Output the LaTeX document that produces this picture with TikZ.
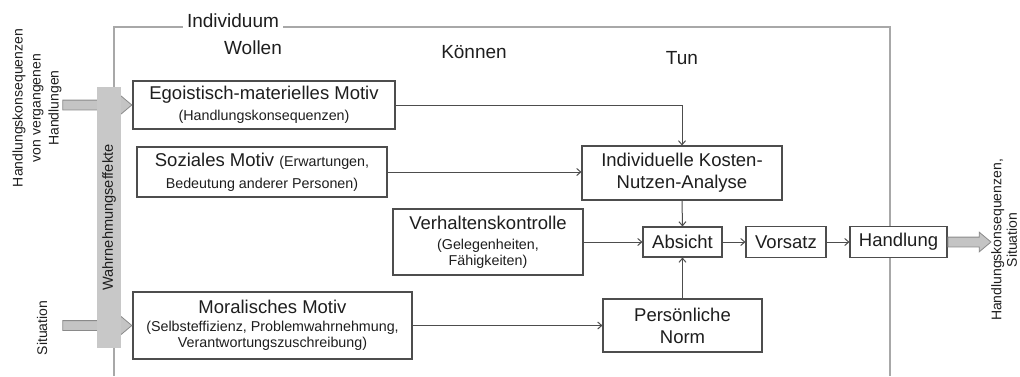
\documentclass[tikz,border=0pt]{standalone}
\usepackage{fontspec}
\setmainfont{Liberation Sans}
\usetikzlibrary{arrows.meta,shapes.arrows}

\definecolor{linegray}{HTML}{4D4D4D}
\definecolor{framegray}{HTML}{A8A8A8}
\definecolor{barfill}{HTML}{C8C8C8}
\definecolor{blockfill}{HTML}{C4C4C4}
\definecolor{blockdraw}{HTML}{8A8A8A}
\definecolor{textcol}{HTML}{1E1E1E}

\newcommand{\bigtxt}{\fontsize{18.5}{22}\selectfont}
\newcommand{\smalltxt}{\fontsize{14.3}{17}\selectfont}

\tikzset{
  box/.style={draw=linegray, line width=1.1pt, fill=white, text=textcol,
    align=center, inner sep=0pt, font=\bigtxt},
  flow/.style={draw=linegray, line width=1pt, -{Straight Barb[length=4pt,width=7pt]}},
  frameline/.style={draw=framegray, line width=1.2pt},
  heading/.style={text=textcol, font=\fontsize{19}{22}\selectfont},
  sidetext/.style={text=textcol, rotate=90, align=center, font=\fontsize{14}{18}\selectfont},
  blockarr/.style={single arrow, draw=blockdraw, fill=blockfill, line width=0.8pt,
    inner sep=4.5pt, minimum width=19pt, single arrow head extend=5pt,
    single arrow tip angle=80}
}

\begin{document}
\begin{tikzpicture}[x=1pt, y=-1pt]
\useasboundingbox (0,0) rectangle (1020,376);

% Frame of the individual
\draw[frameline] (114,376) |- (890,27) -- (890,376);
\node[heading, fill=white, inner xsep=4pt, inner ysep=1pt] (indiv) at (233,21) {Individuum};
\node[heading] (wollen) at (253,48) {Wollen};
\node[heading] (koennen) at (474,52) {Können};
\node[heading] (tun) at (682,58) {Tun};

% Motives (Wollen)
\node[box, minimum width=262pt, minimum height=48pt] (ego) at (264,105)
  {Egoistisch-materielles Motiv\\[-1pt]{\smalltxt (Handlungskonsequenzen)}};
\node[box, minimum width=250pt, minimum height=50pt] (sozial) at (262,172)
  {Soziales Motiv {\smalltxt (Erwartungen,}\\{\smalltxt Bedeutung anderer Personen)}};
\node[box, minimum width=279pt, minimum height=67pt] (moral) at (272.5,325.5)
  {Moralisches Motiv\\[-4pt]{\smalltxt (Selbsteffizienz, Problemwahrnehmung,}\\[-6pt]{\smalltxt Verantwortungszuschreibung)}};

% Koennen and Tun
\node[box, minimum width=190pt, minimum height=66pt] (kontrolle) at (488,242)
  {Verhaltenskontrolle\\[-2pt]{\smalltxt (Gelegenheiten,}\\[-6pt]{\smalltxt Fähigkeiten)}};
\node[box, minimum width=200pt, minimum height=54pt] (analyse) at (682,173)
  {Individuelle Kosten-\\Nutzen-Analyse};
\node[box, minimum width=79pt, minimum height=30pt] (absicht) at (682.5,242) {Absicht};
\node[box, minimum width=159pt, minimum height=53pt] (norm) at (682.5,325.5)
  {Persönliche\\Norm};
\node[box, minimum width=80pt, minimum height=31pt] (vorsatz) at (786,242) {Vorsatz};
\node[box, minimum width=97pt, minimum height=31pt] (handlung) at (898.5,242) {Handlung};

% Connectors
\draw[flow] (ego.east) -| (analyse.north);
\draw[flow] (sozial.east) -- (sozial.east -| analyse.west);
\draw[flow] (analyse.south) -- (absicht.north);
\draw[flow] (kontrolle.east) -- (absicht.west);
\draw[flow] (moral.east) -- (moral.east -| norm.west);
\draw[flow] (norm.north) -- (absicht.south);
\draw[flow] (absicht.east) -- (vorsatz.west);
\draw[flow] (vorsatz.east) -- (handlung.west);

% Inputs and output
\node[blockarr, minimum height=69pt, anchor=tip] (inpast) at (ego.west) {};
\node[blockarr, minimum height=69pt, anchor=tip] (insit) at (moral.west) {};
\node[blockarr, minimum height=43pt, anchor=tail] (out) at (handlung.east) {};
\node[rectangle, fill=barfill, minimum width=261pt, minimum height=24pt, inner sep=0pt,
  rotate=90, text=textcol, font=\fontsize{14.6}{17}\selectfont] (wahrnehmung) at (109,217.5)
  {Wahrnehmungseffekte};

\node[sidetext] (past) at (37,108) {Handlungskonsequenzen\\von vergangenen\\Handlungen};
\node[sidetext] (situation) at (42,328) {Situation};
\node[sidetext, font=\fontsize{14}{15.5}\selectfont] (result) at (1004,240)
  {Handlungskonsequenzen,\\Situation};
\end{tikzpicture}
\end{document}
